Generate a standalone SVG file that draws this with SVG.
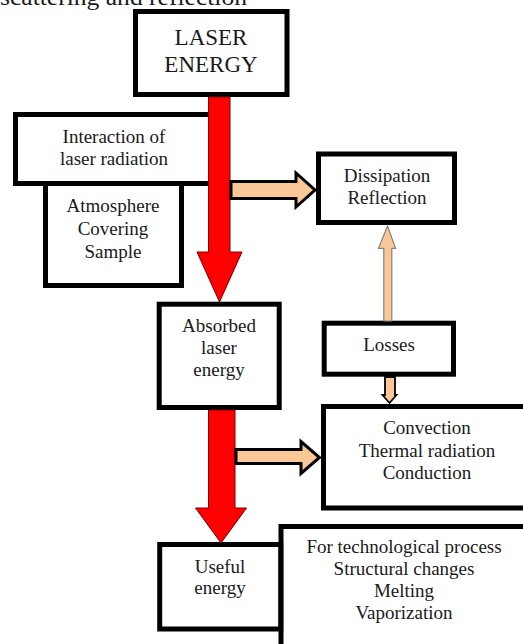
<svg xmlns="http://www.w3.org/2000/svg" width="523" height="644" viewBox="0 0 523 644">
<style>
.box{fill:#fff;stroke:#000;stroke-width:5}
.t{font-family:"Liberation Serif","Times New Roman",serif;font-size:19px;fill:#1a1a1a;text-anchor:middle}
.red{fill:#ff0000;stroke:#7a0000;stroke-width:1}
.peach{fill:#fac896;stroke:#000;stroke-width:3;stroke-linejoin:miter}
.peachthin{fill:#fac896;stroke:#808080;stroke-width:1.2}
.peachmid{fill:#fac896;stroke:#000;stroke-width:1.8}
</style>
<rect width="523" height="644" fill="#fff"/>
<text x="0" y="5" class="t" style="text-anchor:start;font-size:24px" textLength="247" lengthAdjust="spacingAndGlyphs">scattering and reflection</text>

<g id="atmosphere">
<rect class="box" x="45.5" y="150" width="136" height="135.5"/>
<text class="t" x="113" y="212">Atmosphere</text>
<text class="t" x="113" y="235">Covering</text>
<text class="t" x="113" y="258">Sample</text>
</g>
<g id="interaction">
<rect class="box" x="15.5" y="114.5" width="205" height="69"/>
<text class="t" x="114" y="143">Interaction of</text>
<text class="t" x="114" y="165">laser radiation</text>
</g>
<g id="laser">
<rect class="box" x="135.5" y="11.5" width="151.5" height="83"/>
<text class="t" x="211" y="45" style="font-size:23px">LASER</text>
<text class="t" x="211" y="72" style="font-size:23px">ENERGY</text>
</g>
<g id="dissipation">
<rect class="box" x="318.5" y="154" width="136" height="68.5"/>
<text class="t" x="387" y="182">Dissipation</text>
<text class="t" x="387" y="204">Reflection</text>
</g>
<g id="absorbed">
<rect class="box" x="159.2" y="304.2" width="120" height="103.3"/>
<text class="t" x="219" y="332">Absorbed</text>
<text class="t" x="219" y="354">laser</text>
<text class="t" x="219" y="376">energy</text>
</g>
<g id="losses">
<rect class="box" x="324.2" y="323.2" width="129.3" height="51"/>
<text class="t" x="389" y="351">Losses</text>
</g>
<g id="convection">
<rect class="box" x="323.5" y="406.5" width="210" height="101.5"/>
<text class="t" x="427" y="434">Convection</text>
<text class="t" x="427" y="457">Thermal radiation</text>
<text class="t" x="427" y="479">Conduction</text>
</g>
<g id="technological">
<rect class="box" x="281" y="526.5" width="250" height="130"/>
<text class="t" x="404" y="553">For technological process</text>
<text class="t" x="404" y="575">Structural changes</text>
<text class="t" x="404" y="597">Melting</text>
<text class="t" x="404" y="619">Vaporization</text>
</g>
<g id="useful">
<rect class="box" x="159.7" y="544.5" width="121" height="84.5"/>
<text class="t" x="220" y="573">Useful</text>
<text class="t" x="220" y="594">energy</text>
</g>

<g id="connectors">
<path class="red" d="M208.5,97 L230,97 L230,252 L242,252 L219.5,302 L197,252 L208.5,252 Z"/>
<path class="red" d="M208.5,410 L235,410 L235,508 L246.5,508 L221,543 L195.5,508 L208.5,508 Z"/>
<path class="peach" d="M231,181.5 L296,181.5 L296,173 L315,190 L296,207 L296,198.5 L231,198.5 Z"/>
<path class="peach" d="M236,449.5 L301,449.5 L301,441.5 L319.5,457.5 L301,473.5 L301,463.5 L236,463.5 Z"/>
<path class="peachthin" d="M383.8,321 L383.8,248.3 L378.5,248.3 L387.5,226 L395.5,248.3 L391.8,248.3 L391.8,321 Z"/>
<path class="peachmid" d="M385,377 L395,377 L395,395 L396.5,395 L389.5,403 L382.5,395 L385,395 Z"/>
</g>
</svg>
